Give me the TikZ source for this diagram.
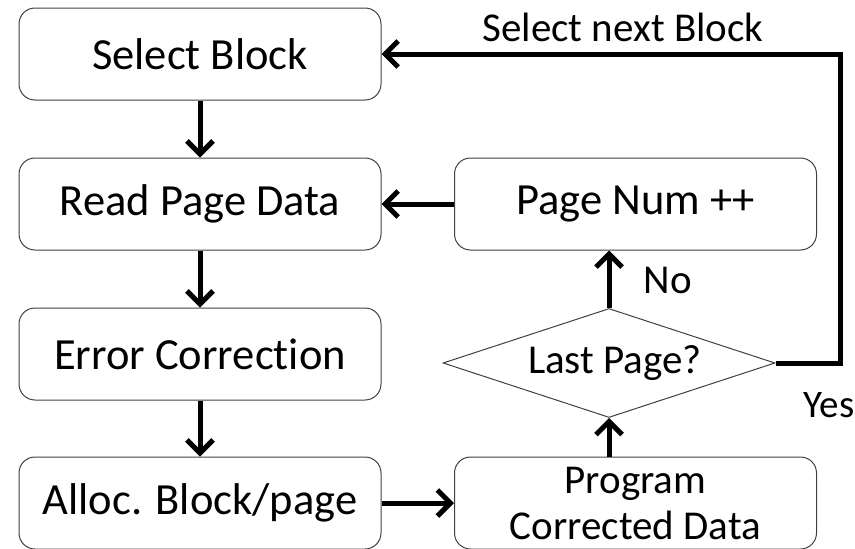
\documentclass[tikz,border=0pt]{standalone}
\usepackage{fontspec}
\setmainfont[Ligatures=NoCommon]{Carlito}
\usetikzlibrary{shapes.geometric,arrows.meta}
\begin{document}
\begin{tikzpicture}[x=1pt,y=-1pt,
  every node/.style={font=\fontsize{44.5}{50}\selectfont},
  box/.style={draw=black!75,line width=1pt,rounded corners=16pt,minimum width=362pt,minimum height=92pt,inner sep=0pt,align=center},
  dec/.style={draw=black!75,line width=1pt,shape=diamond,aspect=3.05,minimum width=332pt,minimum height=109pt,inner sep=0pt},
  conn/.style={line width=5pt,-{Straight Barb[length=13pt,width=26pt,line width=5pt]}},
  lbl/.style={font=\fontsize{41}{46}\selectfont,inner sep=0pt}]
\useasboundingbox (0,0) rectangle (855,549);
\node[box] (sel) at (200,54) {Select Block};
\node[box] (read) at (200,204) {Read Page Data};
\node[box] (err) at (200,354) {Error Correction};
\node[box] (alloc) at (200,503) {Alloc. Block/page};
\node[box] (pnum) at (635.5,204) {Page Num ++};
\node[box,font=\fontsize{41}{46}\selectfont] (prog) at (635.5,503) {Program\\Corrected Data};
\node[dec] (last) at (609,363) {};
\node[font=\fontsize{41}{46}\selectfont] (lasttxt) at (615,363) {Last Page?};
\coordinate (c1) at (840,363);
\coordinate (c2) at (840,54);
\draw[conn] (sel) -- (read);
\draw[conn] (read) -- (err);
\draw[conn] (err) -- (alloc);
\draw[conn] (alloc) -- (prog);
\draw[conn] (prog.north -| last.south) -- (last.south);
\draw[conn] (last.north) -- (pnum.south -| last.north);
\draw[conn] (pnum) -- (read);
\draw[conn,rounded corners=0pt] (last.east) -- (c1) -- (c2) -- (sel.east |- c2);
\node[lbl] (snb) at (623,27) {Select next Block};
\node[lbl] (no) at (668,280) {No};
\node[lbl,font=\fontsize{39}{44}\selectfont] (yes) at (829,405) {Yes};
\end{tikzpicture}
\end{document}
